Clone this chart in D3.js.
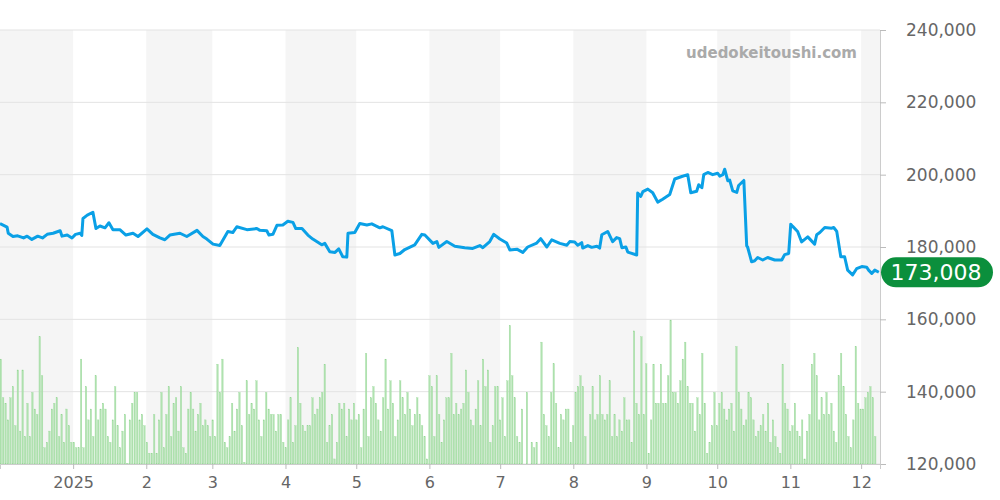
<!DOCTYPE html>
<html><head><meta charset="utf-8">
<script src="https://cdn.jsdelivr.net/npm/d3@7"></script>
<style>body{margin:0;background:#fff;font-family:"DejaVu Sans",sans-serif}</style>
</head><body>
<script>
// price line: [days since 2024-12-01, price in thousands]
var priceDays = [0,3,3.5,5.5,7.5,10,11.5,13.5,16,18,20,22.5,25.5,26.3,28.5,30.5,32,34,34.7,35.2,37,39.4,40.7,42.4,44.5,46.2,47.9,50.8,53.4,56.4,58.5,62.3,64.8,67.8,69.9,72,76.3,79.2,83.5,86,87.7,90.3,93.2,96.6,98.7,100.4,104.7,108.9,110.2,113.1,114,115.7,117.4,119.9,122,124.2,125.4,128,130.5,132.6,136.4,137.7,139.8,142,143.6,145.3,147,147.5,150.4,152.5,155.5,157.6,161,162.3,166.1,167.4,169.5,171.6,175.8,178.8,180.1,183.5,185.2,186,189.4,192.8,197,200.4,203.4,204.7,207.6,209.3,211.9,214.8,216.1,219.1,221.6,223.7,227.5,229.2,231.8,233.9,237.3,240.3,241.5,243.6,244.9,246.6,247,249.2,250.8,253,254.2,255.1,257.6,259.7,261.4,262.7,263.6,265.3,266.1,269.9,270.3,271.6,272.5,274.6,276.7,278.8,280.9,283.9,286,289,291.5,292.8,295.3,296.2,297.5,298.3,300,302.1,304.2,305.1,306.4,307.2,308.5,309.3,310.6,312.3,313.1,315.3,316.5,316.9,318.6,319.9,321.2,323.3,325.4,328.4,331.4,332.6,334.3,335.2,336,338.1,339.8,342.4,345.3,346.2,347.5,349.6,352.5,353.4,354.7,356.4,358,359.3,361.4,363.1,365.3,367.4,368.2,369.5,370.8,372.5];
var priceVals = [186.5,185.5,183.8,182.9,183.1,182.5,183,182.1,183,182.5,183.5,183.8,184.5,183,183.3,182.5,183.5,183.8,183.2,187.9,188.8,189.6,185.1,185.8,185.3,186.7,184.8,184.8,183.3,183.8,182.9,185,183.5,182.5,182,183.3,183.8,182.9,184.6,182.9,182.2,180.8,180.4,184.3,184,185.6,184.8,185.1,184.6,184.5,183.3,183.5,186,186.1,187.1,186.8,185.1,185.1,183.3,182.2,180.6,181,178.7,178.5,179.5,177.3,177.2,183.8,184,186.5,186.1,186.4,185.3,185.6,184.5,177.8,178.2,179.3,180.6,183.5,183.3,181,181.5,179.9,181.5,180.2,179.8,179.6,180.4,179.8,181.5,183.5,182.2,181.1,179.2,179.4,178.5,180,181.1,182.3,180,182,181,180.5,181.5,181.4,180.5,181.2,179.7,180.4,179.9,180.2,179.7,183.4,184.3,181.5,182.6,182.3,179.8,180,178.6,177.8,194.9,194,195.3,196,195,192.4,193.2,194.5,198.8,199.5,200,195,195.4,197.2,196.4,200,200.6,200,200.4,199.6,200,201.5,198.3,198.5,195.5,195.1,197,198.4,180.3,180,175.9,176.2,177.1,176.4,177.1,176.4,176.4,177.9,178.2,186.3,185.7,184.3,181.4,182.8,180.8,183.4,184,185.4,185.2,185.4,184.3,177.3,177.3,173.6,172.3,174,174.6,174.4,173.6,172.7,173.6,173.008];
// daily listing volume (drawn on the price axis above 120k, thousands)
var volume = [29.0,18.3,16.8,12.2,18.3,21.4,10.6,26.0,9.1,26.0,7.6,16.8,7.6,19.8,15.2,13.7,35.2,24.4,4.5,6.0,9.1,15.2,16.8,18.3,7.6,13.7,6.0,15.2,10.6,6.0,6.0,4.5,4.5,29.0,4.5,21.4,12.2,15.2,7.6,24.4,12.2,15.2,16.8,15.2,7.6,6.0,12.2,21.4,10.6,4.5,9.1,13.7,0.2,12.2,16.8,19.8,19.8,12.2,13.7,10.6,6.0,3.0,3.0,13.7,3.0,12.2,19.8,4.5,13.7,21.4,7.6,16.8,18.3,9.1,21.4,4.5,3.0,15.2,19.8,15.2,9.1,13.7,16.8,10.6,12.2,10.6,7.6,12.2,7.6,27.6,19.8,29.0,6.0,
4.5,7.6,16.8,9.1,15.2,19.8,10.6,0.5,23.0,13.7,16.8,15.2,23.0,12.2,7.6,12.2,19.8,15.2,13.7,13.7,9.1,13.7,13.7,6.0,4.5,12.2,18.3,6.0,10.6,32.2,16.8,10.6,9.1,10.6,10.6,18.3,13.7,15.2,18.3,19.8,27.6,6.0,10.6,13.7,1.4,6.0,16.8,15.2,16.8,7.6,15.2,12.2,16.8,12.2,13.7,4.5,15.2,30.6,7.6,18.3,21.4,16.8,12.2,9.1,18.3,29.0,15.2,23.0,16.8,7.6,12.2,23.0,18.3,13.7,19.8,15.2,10.6,13.7,18.3,13.7,10.6,7.6,1.4,24.4,21.4,7.6,24.4,13.7,6.0,12.2,18.3,18.3,30.6,
13.7,16.8,13.7,15.2,16.8,26.0,19.8,12.2,10.6,15.2,23.0,10.6,29.0,21.4,26.0,6.0,10.6,21.4,21.4,12.2,18.3,7.6,23.0,38.3,24.4,18.3,7.6,6.0,15.2,0,19.8,0,6.0,4.5,6.0,0,33.7,13.7,10.6,7.6,19.8,27.7,16.8,4.5,13.7,12.2,15.2,15.2,6.0,10.6,19.8,21.4,24.4,21.4,7.6,0,13.7,21.4,12.2,13.7,24.4,13.7,12.2,13.7,23.0,7.6,13.7,7.6,12.2,9.1,18.3,12.2,12.2,6.0,36.8,16.8,13.7,35.2,13.7,27.7,3.0,12.2,27.6,16.8,16.8,
27.6,16.8,16.8,24.4,39.8,19.8,19.8,16.8,23.0,29.0,33.7,21.4,16.8,16.8,9.1,18.3,13.7,30.6,16.8,3.0,6.0,10.6,19.8,10.6,16.8,19.8,15.2,12.2,15.2,16.8,9.1,32.5,19.8,15.2,10.6,12.2,19.8,18.3,12.2,7.6,9.1,10.6,13.7,9.1,16.8,6.0,12.2,7.6,4.5,3.0,27.6,16.8,15.2,9.1,10.6,16.8,9.1,7.6,12.2,1.4,9.1,13.7,27.6,30.6,24.4,12.2,18.3,13.7,19.8,13.7,16.8,9.1,6.0,24.4,30.6,21.4,13.7,7.6,4.5,12.2,32.5,16.8,15.2,15.2,18.3,19.8,21.4,18.3,7.6];
var yTicks = [120000,140000,160000,180000,200000,220000,240000];
var monthLabels = ["2025","2","3","4","5","6","7","8","9","10","11","12"];

var W = 1000, H = 500, plotRight = 880, plotTop = 30, plotBottom = 464;
var start = new Date(2024, 11, 1), end = new Date(2024, 11, 1 + 373);
var dayDate = function(d){ return new Date(2024, 11, 1 + Math.floor(d), 24 * (d % 1)); };

var svg = d3.select("body").append("svg").attr("width", W).attr("height", H);
var x = d3.scaleTime().domain([start, end]).range([0, plotRight]);
var y = d3.scaleLinear().domain([120000, 240000]).range([plotBottom, plotTop]);

// alternating month bands
var months = d3.timeMonth.range(start, end);
svg.selectAll(".band").data(months.filter(function(d, i){ return i % 2 == 0; })).enter()
  .append("rect")
  .attr("x", function(d){ return x(d); })
  .attr("width", function(d){ return Math.min(plotRight, x(d3.timeMonth.offset(d, 1))) - x(d); })
  .attr("y", plotTop).attr("height", plotBottom - plotTop)
  .attr("fill", "#f5f5f5");

// grid
svg.selectAll(".grid").data(yTicks).enter().append("line")
  .attr("x1", 0).attr("x2", plotRight)
  .attr("y1", function(d){ return y(d); }).attr("y2", function(d){ return y(d); })
  .attr("stroke", "#e3e3e3");

// volume bars
var band = d3.scaleBand().domain(d3.range(volume.length)).range([0, plotRight - 4]).paddingInner(0.4);
svg.selectAll(".vol").data(volume).enter().append("rect")
  .attr("x", function(d, i){ return band(i); })
  .attr("width", band.bandwidth())
  .attr("y", function(d){ return y(120000 + d * 1000); })
  .attr("height", function(d){ return plotBottom - y(120000 + d * 1000); })
  .attr("fill", "#b0e2b0").attr("stroke", "#94d694").attr("stroke-width", 0.3);

// price line
var pts = priceDays.map(function(d, i){ return [dayDate(d), priceVals[i] * 1000]; });
svg.append("path").datum(pts)
  .attr("fill", "none").attr("stroke", "#0aa0e6").attr("stroke-width", 3)
  .attr("stroke-linejoin", "round")
  .attr("d", d3.line().x(function(d){ return x(d[0]); }).y(function(d){ return y(d[1]); }));

// right axis
var ya = svg.append("g").attr("transform", "translate(" + plotRight + ",0)")
  .call(d3.axisRight(y).tickValues(yTicks).tickSize(6).tickPadding(20).tickFormat(d3.format(",")));
ya.select(".domain").attr("stroke", "#ccc");
ya.selectAll(".tick line").attr("stroke", "#bbb");
ya.selectAll("text").attr("fill", "#666").style("font-size", "17px").style("font-family", "DejaVu Sans");

// bottom axis
var xa = svg.append("g").attr("transform", "translate(0," + plotBottom + ")")
  .call(d3.axisBottom(x).tickValues(months.slice(1)).tickSize(5).tickPadding(8)
    .tickFormat(function(d, i){ return monthLabels[i]; }));
xa.select(".domain").attr("stroke", "#ccc");
xa.selectAll(".tick line").attr("stroke", "#bbb");
xa.selectAll("text").attr("fill", "#666").style("font-size", "16px").style("font-family", "DejaVu Sans");

// watermark
svg.append("text").attr("x", 857).attr("y", 58).attr("text-anchor", "end")
  .attr("fill", "#aaa").style("font-size", "15px").style("font-weight", "bold")
  .text("udedokeitoushi.com");

// last price tag
var last = priceVals[priceVals.length - 1] * 1000;
svg.append("rect").attr("x", plotRight + 1).attr("y", y(last) - 15).attr("width", 112).attr("height", 30)
  .attr("rx", 15).attr("fill", "#0b8f3c");
svg.append("text").attr("x", plotRight + 56).attr("y", y(last) + 8).attr("text-anchor", "middle")
  .attr("fill", "#fff").style("font-size", "22px").text(d3.format(",")(Math.round(last)));
</script>
</body></html>
